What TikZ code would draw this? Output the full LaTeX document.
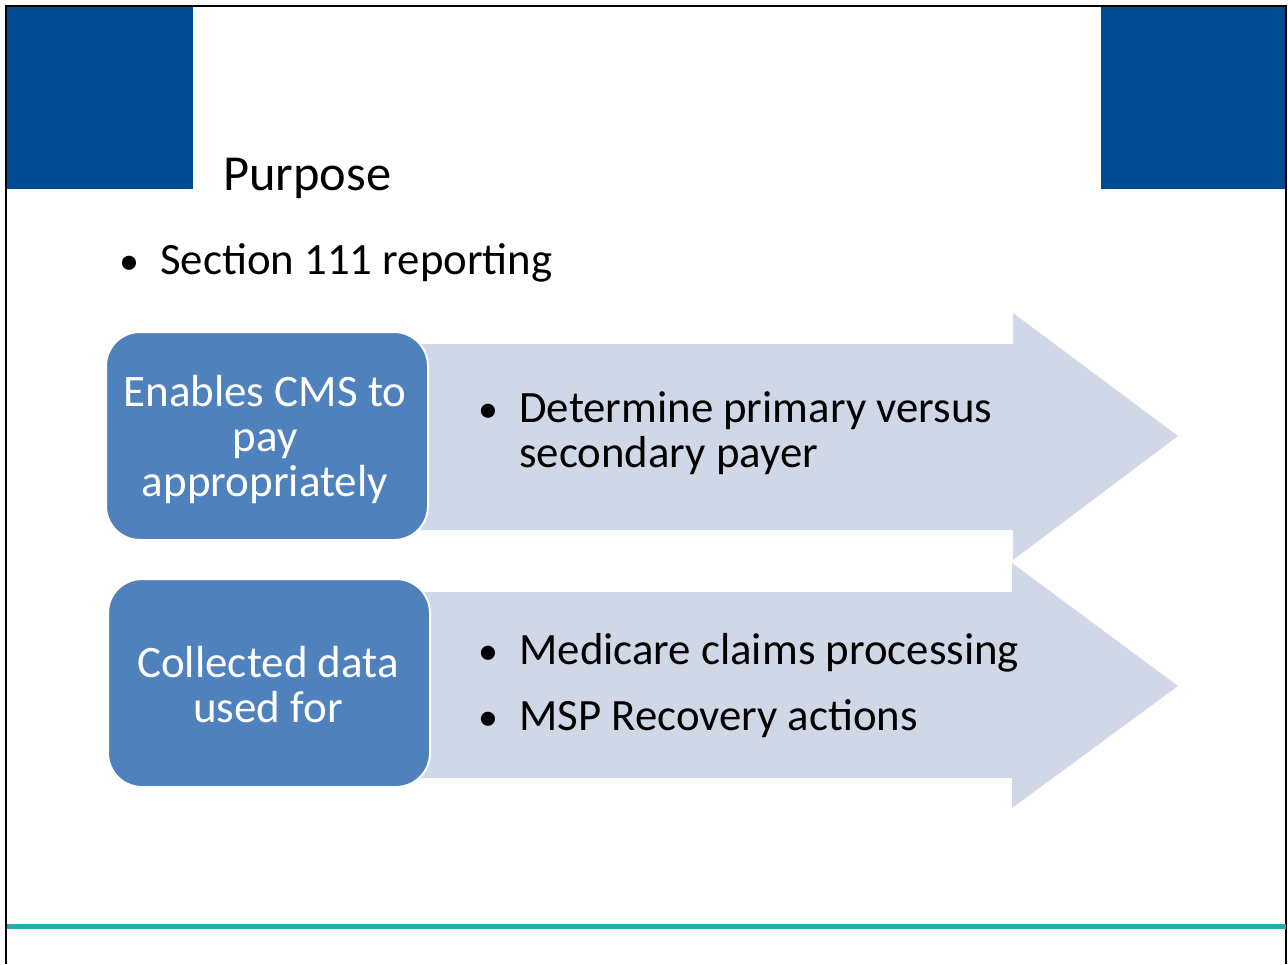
\documentclass[tikz,border=0pt]{standalone}
\usepackage{fontspec}
\setmainfont{Carlito}
\usetikzlibrary{positioning}
\definecolor{headblue}{HTML}{004C93}
\definecolor{boxblue}{HTML}{4F81BD}
\definecolor{arrowgrey}{HTML}{D0D8E8}
\definecolor{rulecyan}{HTML}{25ABA8}
\tikzstyle{reason} = [rectangle, rounded corners=17pt, minimum width=161pt, minimum height=104pt, draw=white, line width=1pt, fill=boxblue]
\tikzstyle{reasontext} = [text centered, align=center, inner sep=0pt, text=white, font=\fontsize{22.5}{22.5}\selectfont]
\tikzstyle{point} = [anchor=base west, inner sep=0pt, font=\fontsize{22.4}{22.5}\selectfont]
\tikzstyle{dot} = [anchor=base east, inner sep=0pt, yshift=4.5pt, font=\fontsize{20}{20}\selectfont]
\tikzstyle{bigarrow} = [fill=arrowgrey]

\begin{document}
\begin{tikzpicture}[x=0.5pt, y=-0.5pt]
            \useasboundingbox (0,0) rectangle (1288,964);
            % header blocks and frame
            \fill [headblue] (7,7) rectangle (193,189);
            \fill [headblue] (1101,7) rectangle (1286,189);
            \draw [line width=0.75pt] (6,964) -- (6,6) -- (1286,6) -- (1286,964);
            \draw [rulecyan, line width=2.5pt] (7,926) -- (1286,926);
            \node (title) [anchor=base west, inner sep=0pt, font=\fontsize{25.2}{25.2}\selectfont] at (223,190) {Purpose};
            \node (sec) [point] at (160,274) {Section 111 reporting};
            \node [dot, left=10pt of sec.base west] {\textbullet};

            % arrows
            \fill [bigarrow] (420,344) -- (1013,344) -- (1013,313) -- (1178,436) -- (1013,560) -- (1013,530) -- (420,530) -- cycle;
            \fill [bigarrow] (420,592) -- (1012,592) -- (1012,563) -- (1178,686) -- (1012,808) -- (1012,778) -- (420,778) -- cycle;

            % blue boxes
            \node (pay) [reason] at (267,436) {};
            \node (paytext) [reasontext] at (265,439) {Enables CMS to\\pay\\appropriately};
            \node (data) [reason] at (269,683) {};
            \node (datatext) [reasontext] at (268,685) {Collected data\\used for};

            % bullet points
            \node (primary) [point] at (519,422) {Determine primary versus};
            \node (secondary) [point] at (519,467) {secondary payer};
            \node (claims) [point] at (519,664) {Medicare claims processing};
            \node (msp) [point] at (519,730) {MSP Recovery actions};
            \node [dot, left=10pt of primary.base west] {\textbullet};
            \node [dot, left=10pt of claims.base west] {\textbullet};
            \node [dot, left=10pt of msp.base west] {\textbullet};
        \end{tikzpicture}
\end{document}
